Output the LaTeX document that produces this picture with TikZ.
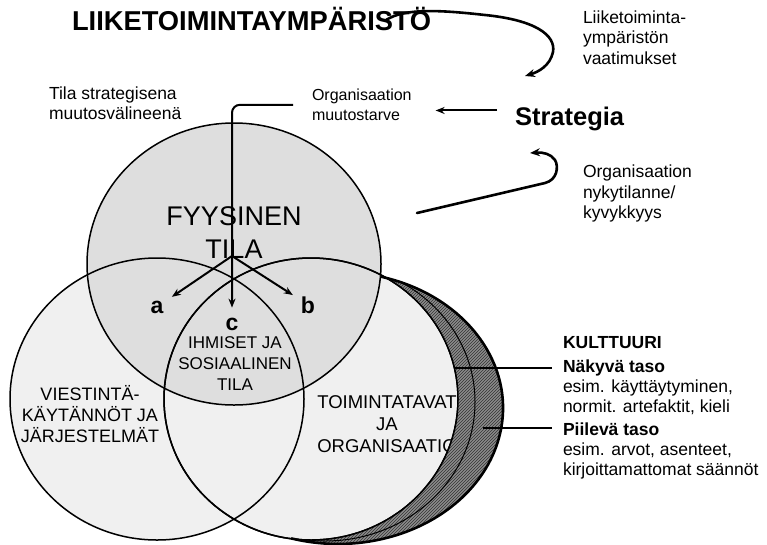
\documentclass[tikz,border=0pt]{standalone}
\usepackage{fontspec}
\setmainfont{Liberation Sans}
\usetikzlibrary{arrows.meta,patterns}
\newcommand{\fsz}[2]{\fontsize{#1}{#2}\selectfont}
\def\crescentpath{(380.7,276.6) arc[start angle=75, end angle=-106.5, x radius=165pt, y radius=136pt]
  arc[start angle=-97.8, end angle=61.6, x radius=147pt, y radius=141pt] -- cycle}
\begin{document}
\begin{tikzpicture}[x=1pt,y=-1pt,
  txt/.style={inner sep=0pt, outer sep=0pt},
  small/.style={txt, font=\fsz{17.5}{20.5}},
  circ/.style={line width=1.5pt},
  arr/.style={line width=2pt, -{Stealth[length=9pt,width=7pt]}},
  brush/.style={line width=2.6pt, line cap=round, -{Stealth[length=10pt,width=8pt]}},
  lab/.style={txt, font=\fsz{23}{26}\bfseries},
]
\useasboundingbox (0,0) rectangle (767,544);

% circle fills
\fill[black!6] (157,399) ellipse [x radius=147pt, y radius=141pt];
\fill[black!6] (311,399) ellipse [x radius=147pt, y radius=141pt];
\fill[black!13] (234,264) ellipse [x radius=147pt, y radius=141pt];
% outlines
\draw[circ] (157,399) ellipse [x radius=147pt, y radius=141pt];
\draw[circ] (234,264) ellipse [x radius=147pt, y radius=141pt];
\draw[circ] (311,399) ellipse [x radius=147pt, y radius=141pt];

% texts (base anchor = baseline of the last line)
\node[txt, anchor=base west, font=\fsz{27.3}{30}\bfseries] (title) at (72,30) {LIIKETOIMINTAYMPÄRISTÖ};
\node[txt, anchor=base west, font=\fsz{25.5}{30}\bfseries] (strat) at (515,125) {Strategia};
\node[small, anchor=base west, align=left] (req) at (583,64) {Liiketoiminta-\\ympäristön\\vaatimukset};
\node[small, anchor=base west, align=left] (cur) at (583,218.5) {Organisaation\\nykytilanne/\\kyvykkyys};
\node[small, anchor=base west, align=left, font=\fsz{16}{20}] (need) at (312,120.5) {Organisaation\\muutostarve};
\node[small, anchor=base west, align=left, font=\fsz{17.5}{20}] (tool) at (49,119.5) {Tila strategisena\\muutosvälineenä};

\node[txt, anchor=base, align=center, font=\fsz{27}{33}] (phys) at (234,258) {FYYSINEN\\TILA};
\node[txt, anchor=base, align=center, font=\fsz{17}{21}] (people) at (235,390) {IHMISET JA\\SOSIAALINEN\\TILA};
\node[txt, anchor=base, align=center, font=\fsz{18}{21}] (comm) at (90,442) {VIESTINTÄ-\\KÄYTÄNNÖT JA\\JÄRJESTELMÄT};
\node[txt, anchor=base, align=center, font=\fsz{18.5}{22}] (ops) at (387,452) {TOIMINTATAVAT\\JA\\ORGANISAATIO};

\node[lab, anchor=base] (a) at (157,313) {a};
\node[lab, anchor=base] (b) at (308,313) {b};
\node[lab, anchor=base] (c) at (232,330) {c};

\node[small, anchor=base west, font=\fsz{17.5}{21}\bfseries] (kult) at (563,348) {KULTTUURI};
\node[small, anchor=base west, font=\fsz{17.5}{21}\bfseries] (vis) at (563,372) {Näkyvä taso};
\node[small, anchor=base west, align=left, font=\fsz{17.5}{20}] (visd) at (563,412) {esim. käyttäytyminen,\\normit. artefaktit, kieli};
\node[small, anchor=base west, font=\fsz{17.5}{21}\bfseries] (hid) at (563,435) {Piilevä taso};
\node[small, anchor=base west, align=left, font=\fsz{17.5}{20}] (hidd) at (563,475) {esim. arvot, asenteet,\\kirjoittamattomat säännöt};

% culture ring (crescent)
\fill[black!45] \crescentpath;
\fill[pattern=north east lines, pattern color=black!80] \crescentpath;
\begin{scope}
  \clip \crescentpath;
  \draw[line width=1pt] (325,402) ellipse [x radius=150pt, y radius=139pt];
\end{scope}
\draw[line width=2.6pt] (380.7,276.6) arc[start angle=75, end angle=-106.5, x radius=165pt, y radius=136pt];
\draw[circ] (311,399) ellipse [x radius=147pt, y radius=141pt];

% culture connectors
\coordinate (visring) at (455,368);
\coordinate (hidring) at (483,428);
\draw[line width=1.6pt, shorten >=11pt] (visring) -- (visring -| vis.west);
\draw[line width=1.6pt, shorten >=11pt] (hidring) -- (hidring -| hid.west);

% arrows a b c
\coordinate (fork) at (232,256);
\draw[arr, shorten >=18pt] (fork) -- (a.center);
\draw[arr, shorten >=18pt] (fork) -- (b.center);
\draw[arr, rounded corners=8pt, shorten <=19pt, shorten >=10pt] (need.west) -| (c.north);

% strategia arrow
\path ([yshift=8pt]strat.west) coordinate (sw);
\draw[arr, shorten <=18pt, shorten >=24pt] (sw) -- (sw -| need.east);

% brush arrows
\coordinate (t0) at (386,20);
\coordinate (t1) at (525,76);
\draw[brush] (t0) .. controls (405,8) and (440,10) .. (485,15)
  .. controls (535,20) and (556,35) .. (553,52)
  .. controls (550,66) and (538,72) .. (t1);
\coordinate (n0) at (417,213);
\coordinate (n1) at (530,153);
\draw[brush] (n0) -- (545,183) .. controls (557,180) and (559,167) .. (555,160)
  .. controls (551,154) and (543,152) .. (n1);
\end{tikzpicture}
\end{document}
